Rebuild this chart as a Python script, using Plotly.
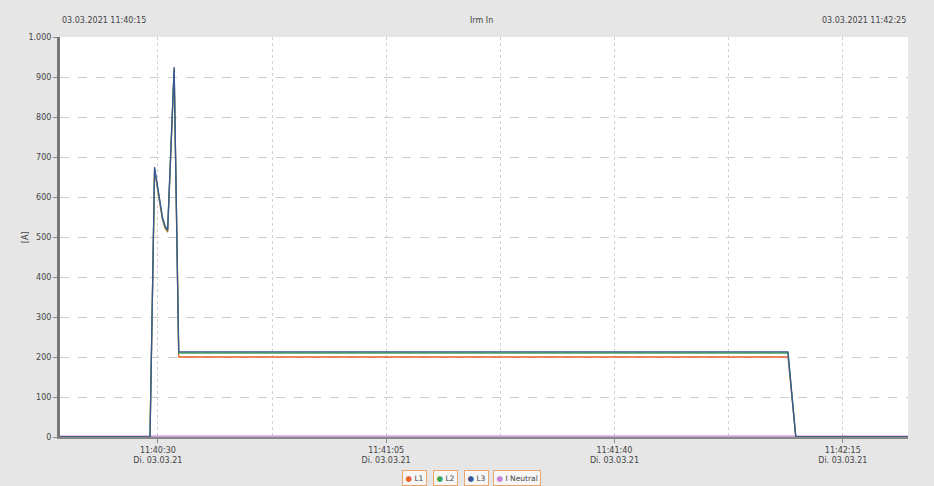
import plotly.graph_objects as go

# Current measurement, phases L1..L3 and neutral
times = [
    "2021-03-03 11:40:15.0", "2021-03-03 11:40:28.8", "2021-03-03 11:40:29.5",
    "2021-03-03 11:40:29.9", "2021-03-03 11:40:30.3", "2021-03-03 11:40:30.7",
    "2021-03-03 11:40:31.1", "2021-03-03 11:40:31.5", "2021-03-03 11:40:32.5",
    "2021-03-03 11:40:33.2", "2021-03-03 11:42:06.6", "2021-03-03 11:42:07.8",
    "2021-03-03 11:42:25.0",
]
l1 = [0, 0, 665, 622, 578, 544, 522, 512, 915, 200, 200, 0, 0]
l2 = [0, 0, 670, 626, 582, 547, 525, 515, 920, 210, 210, 0, 0]
l3 = [0, 0, 675, 630, 585, 550, 528, 518, 925, 213, 213, 0, 0]
neutral = [2, 2, 3, 3, 3, 3, 3, 3, 3, 2, 2, 2, 2]

series_names = ["L1", "L2", "L3", "I Neutral"]
series_colors = ["#e8632b", "#3aa655", "#3a5694", "#c77fd6"]

y_ticks = [0, 100, 200, 300, 400, 500, 600, 700, 800, 900, 1000]
y_ticktext = ["0", "100", "200", "300", "400", "500", "600", "700", "800", "900", "1.000"]

x_ticks = ["2021-03-03 11:40:30", "2021-03-03 11:41:05",
           "2021-03-03 11:41:40", "2021-03-03 11:42:15"]
x_ticktext = ["11:40:30<br>Di. 03.03.21", "11:41:05<br>Di. 03.03.21",
              "11:41:40<br>Di. 03.03.21", "11:42:15<br>Di. 03.03.21"]

header_left = "03.03.2021 11:40:15"
header_mid = "Irm In"
header_right = "03.03.2021 11:42:25"
y_unit = "[A]"

fig = go.Figure()
# neutral first, then L1, L2, L3 on top
for name, vals, col in [("I Neutral", neutral, series_colors[3]),
                        ("L1", l1, series_colors[0]),
                        ("L2", l2, series_colors[1]),
                        ("L3", l3, series_colors[2])]:
    fig.add_trace(go.Scatter(x=times, y=vals, mode="lines", name=name,
                             line=dict(color=col, width=1.3)))

# boxed legend items along the bottom edge
legend_x = [0.4186, 0.4546, 0.491, 0.5395]
annotations = []
for name, col, lx in zip(series_names, series_colors, legend_x):
    annotations.append(dict(
        text=f'<span style="color:{col}">●</span> {name}',
        x=lx, y=-0.1025, xref="paper", yref="paper",
        xanchor="center", yanchor="middle", showarrow=False,
        font=dict(size=7.5, color="#444444"),
        bgcolor="#f6f6f6", bordercolor="#eba46a", borderwidth=1, borderpad=2.5,
    ))

for txt, ax, anchor in [(header_left, 0.0, "left"),
                        (header_mid, 0.497, "center"),
                        (header_right, 1.0, "right")]:
    annotations.append(dict(text=txt, x=ax, y=1.0, xref="paper", yref="paper",
                            xanchor=anchor, yanchor="bottom", yshift=10,
                            showarrow=False, font=dict(size=8, color="#444444")))

annotations.append(dict(text=y_unit, x=-0.041, y=0.5, xref="paper", yref="paper",
                        xanchor="center", yanchor="middle", textangle=-90,
                        showarrow=False, font=dict(size=8, color="#444444")))

fig.update_layout(
    width=934, height=486,
    margin=dict(l=60, r=26, t=37, b=49),
    paper_bgcolor="#e6e6e6",
    plot_bgcolor="#ffffff",
    font=dict(family="DejaVu Sans", size=8, color="#444444"),
    showlegend=False,
    xaxis=dict(
        automargin=False,
        range=["2021-03-03 11:40:15", "2021-03-03 11:42:25"],
        tickvals=x_ticks, ticktext=x_ticktext, tickangle=0,
        showgrid=True, gridcolor="#d0d0d0", griddash="dot", gridwidth=1,
        minor=dict(dtick=17500, tick0="2021-03-03 11:40:30", showgrid=True,
                   gridcolor="#d0d0d0", griddash="dot"),
        showline=True, linecolor="#888888", linewidth=2,
        ticks="outside", ticklen=4, tickcolor="#888888",
        zeroline=False, tickfont=dict(size=8, color="#444444"),
    ),
    yaxis=dict(
        automargin=False,
        range=[0, 1000], tickvals=y_ticks, ticktext=y_ticktext,
        showgrid=True, gridcolor="#cccccc", griddash="dash", gridwidth=1,
        showline=True, linecolor="#777777", linewidth=3,
        ticks="outside", ticklen=4, tickcolor="#888888",
        zeroline=False, tickfont=dict(size=8, color="#444444"),
    ),
    annotations=annotations,
)

fig.write_html("out.html")
